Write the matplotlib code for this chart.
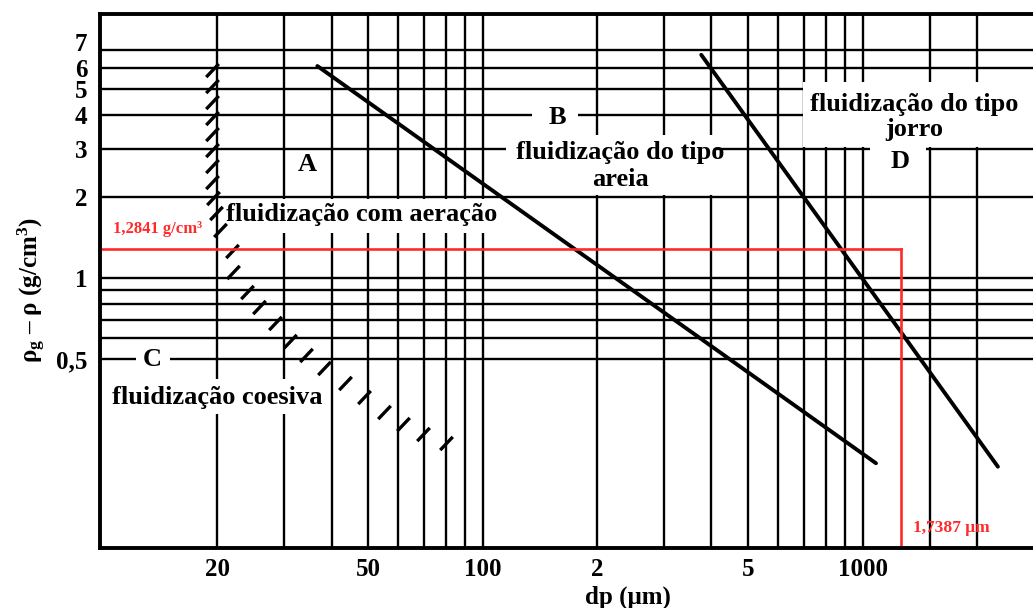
import matplotlib.pyplot as plt
from matplotlib.path import Path
from matplotlib.patches import Rectangle
from matplotlib.transforms import ScaledTranslation

plt.rcParams['font.family'] = ['Liberation Serif', 'DejaVu Serif']
plt.rcParams['font.weight'] = 'bold'
plt.rcParams['mathtext.fontset'] = 'custom'
plt.rcParams['mathtext.rm'] = 'Liberation Serif:bold'
plt.rcParams['mathtext.it'] = 'Liberation Serif:bold'
plt.rcParams['mathtext.bf'] = 'Liberation Serif:bold'
plt.rcParams['mathtext.default'] = 'rm'

# grid lines of the Geldart chart
dp_grid = [20, 30, 40, 50, 60, 70, 80, 90, 100, 200, 300, 400, 500,
           600, 700, 800, 900, 1000, 1500, 2000]
rho_grid = [0.5, 0.6, 0.7, 0.8, 0.9, 1, 2, 3, 4, 5, 6, 7]

dp_ticks = [20, 50, 100, 200, 500, 1000]
dp_ticklabels = ['20', '50', '100', '2', '5', '1000']
rho_ticks = [0.5, 1, 2, 3, 4, 5, 6, 7]
rho_ticklabels = ['0,5', '1', '2', '3', '4', '5', '6', '7']

# A/B and B/D boundaries
ab_dp = [36.7, 1084]
ab_rho = [6.09, 0.206]
bd_dp = [376, 2270]
bd_rho = [6.7, 0.2]

# C/A boundary, drawn as hatch strokes
ca_dp = [19.4, 19.4, 19.4, 19.4, 19.4, 19.4, 19.4, 19.4, 19.5, 19.8, 20.4,
         21.9, 22.0, 24.0, 25.8, 28.4, 31.1, 34.3, 38.2, 43.4, 48.7, 55.0,
         61.7, 69.7, 80.1]
ca_rho = [5.89, 5.14, 4.49, 3.91, 3.42, 2.98, 2.60, 2.27, 1.98, 1.74, 1.51,
          1.26, 1.05, 0.887, 0.781, 0.681, 0.584, 0.519, 0.464, 0.408, 0.362,
          0.319, 0.288, 0.264, 0.245]

# operating point
rho_op = 1.2841
dp_op = 1262

W, H = 1033, 608
fig = plt.figure(figsize=(W / 100, H / 100), dpi=100)
ax = fig.add_axes([100 / W, 60 / H, (W - 100) / W, 534 / H])
ax.set_xscale('log')
ax.set_yscale('log')
ax.set_xlim(9.83, 2808)
ax.set_ylim(0.1, 9.49)

for d in dp_grid:
    ax.axvline(d, color='black', lw=1.7, zorder=1)
for r in rho_grid:
    ax.axhline(r, color='black', lw=1.7, zorder=1)

# white areas behind the region labels
boxes = [
    (20.5, 113, 1.47, 1.96),     # com aeração
    (115, 411, 2.03, 3.38),      # tipo areia
    (135, 178, 3.7, 4.25),       # B
    (697, 5000, 3.06, 5.3),      # tipo jorro
    (1046, 1470, 2.85, 3.15),    # D
    (12.2, 15.0, 0.47, 0.53),    # C
    (9.9, 38.3, 0.314, 0.4225),  # coesiva
]
for x0, x1, y0, y1 in boxes:
    ax.add_patch(Rectangle((x0, y0), x1 - x0, y1 - y0, facecolor='white',
                           edgecolor='none', zorder=2))

ax.plot(ab_dp, ab_rho, color='black', lw=2.8, solid_capstyle='round', zorder=3)
ax.plot(bd_dp, bd_rho, color='black', lw=2.8, solid_capstyle='round', zorder=3)

stroke = Path([(-1, -1.05), (1, 1.05)])
ax.plot(ca_dp, ca_rho, ls='none', marker=stroke, markersize=9.5,
        markeredgewidth=2.4, color='black', zorder=3)

x_left = ax.get_xlim()[0]
y_bottom = ax.get_ylim()[0]
ax.plot([x_left, dp_op], [rho_op, rho_op], color='#ff2a2a', lw=1.9, zorder=3)
ax.plot([dp_op, dp_op], [y_bottom, rho_op], color='#ff2a2a', lw=1.9, zorder=3)

fs = 19
ax.text(34.5, 2.62, 'A', fontsize=fs, ha='center', va='center', zorder=4)
ax.text(48.1, 1.712, 'fluidização com aeração', fontsize=fs,
        ha='center', va='center', zorder=4)
ax.text(157, 3.94, 'B', fontsize=fs, ha='center', va='center', zorder=4)
ax.text(230, 2.60, 'fluidização do tipo\nareia', fontsize=fs, ha='center',
        va='center', linespacing=1.2, zorder=4)
ax.text(1370, 3.94, 'fluidização do tipo\njorro', fontsize=fs, ha='center',
        va='center', linespacing=1.1, zorder=4)
ax.text(1258, 2.69, 'D', fontsize=fs, ha='center', va='center', zorder=4)
ax.text(13.5, 0.5, 'C', fontsize=fs, ha='center', va='center', zorder=4)
ax.text(20, 0.362, 'fluidização coesiva', fontsize=fs, ha='center',
        va='center', zorder=4)

ax.text(13.9, 1.52, '1,2841 g/cm³', fontsize=12, color='#ff2a2a',
        ha='center', va='center', zorder=4)
ax.text(1356, 0.1186, '1,7387 μm', fontsize=12.5, color='#ff2a2a',
        ha='left', va='center', zorder=4)

ax.set_xticks(dp_ticks, dp_ticklabels)
ax.set_yticks(rho_ticks, rho_ticklabels)
ax.minorticks_off()
ax.tick_params(axis='both', length=0, labelsize=18)
ax.tick_params(axis='x', pad=7)
ax.tick_params(axis='y', pad=9)

# lift the top label clear of the one below it
top_label = ax.get_yticklabels()[-1]
top_label.set_transform(top_label.get_transform() +
                        ScaledTranslation(0, 8 / 100, fig.dpi_scale_trans))

for side in ['top', 'left', 'bottom']:
    ax.spines[side].set_linewidth(2.8)
    ax.spines[side].set_zorder(5)
ax.spines['right'].set_visible(False)

fig.text(628 / W, 1 - 597 / H, 'dp (μm)', fontsize=18, ha='center', va='center')
fig.text(32 / W, 1 - 290 / H, r'$\rho_g$ – $\rho$ (g/cm$^3$)', fontsize=18,
         rotation=90, ha='center', va='center')

fig.savefig('out.png', dpi=100)
